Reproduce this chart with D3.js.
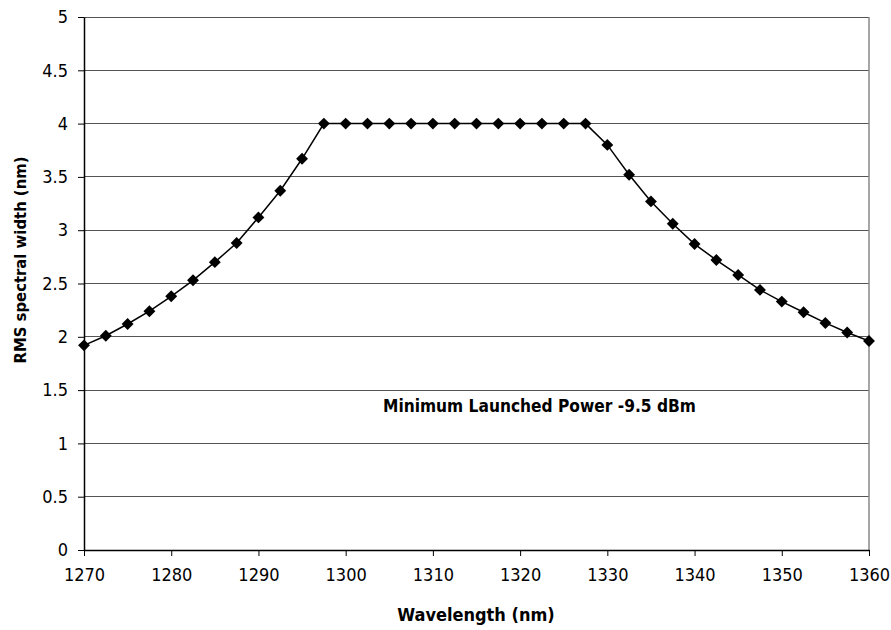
<!DOCTYPE html>
<html><head><meta charset="utf-8">
<script src="https://cdn.jsdelivr.net/npm/d3@7"></script>
<style>body{margin:0;background:#fff}</style>
</head><body>
<svg id="c" width="891" height="630"></svg>
<script>
const wavelengths = d3.range(37).map(i => 1270 + i * 2.5);
const rmsWidth = [1.92,2.01,2.12,2.24,2.38,2.53,2.70,2.88,3.12,3.37,3.67,
  4,4,4,4,4,4,4,4,4,4,4,4,4,
  3.80,3.52,3.27,3.06,2.87,2.72,2.58,2.44,2.33,2.23,2.13,2.04,1.96];
const xTicks = [1270,1280,1290,1300,1310,1320,1330,1340,1350,1360];
const yTicks = [0,0.5,1,1.5,2,2.5,3,3.5,4,4.5,5];
const xTitle = "Wavelength (nm)";
const yTitle = "RMS spectral width (nm)";
const note = "Minimum Launched Power -9.5 dBm";

const font = "'DejaVu Sans Condensed','Liberation Sans Narrow',sans-serif";
const m = {l:84, r:869, t:17, b:550};
const svg = d3.select("#c");
const x = d3.scaleLinear().domain([1270,1360]).range([m.l, m.r]);
const y = d3.scaleLinear().domain([0,5]).range([m.b, m.t]);

svg.append("g").selectAll("line").data(yTicks.filter(d=>d>0)).join("line")
  .attr("x1", m.l).attr("x2", m.r).attr("y1", d=>y(d)).attr("y2", d=>y(d))
  .attr("stroke", "#555").attr("stroke-width", 1).attr("shape-rendering","crispEdges");
svg.append("line").attr("x1", m.r).attr("x2", m.r).attr("y1", m.t).attr("y2", m.b)
  .attr("stroke","#888").attr("stroke-width",1.5);

const xa = svg.append("g").attr("transform", `translate(0,${m.b})`)
  .call(d3.axisBottom(x).tickValues(xTicks).tickSize(6).tickPadding(12).tickSizeOuter(0).tickFormat(d3.format("d")));
const ya = svg.append("g").attr("transform", `translate(${m.l},0)`)
  .call(d3.axisLeft(y).tickValues(yTicks).tickSize(6).tickPadding(10).tickSizeOuter(0).tickFormat(d=>String(d)));
[xa, ya].forEach(a => {
  a.selectAll("path.domain").attr("stroke","#000").attr("stroke-width",1.5);
  a.selectAll(".tick line").attr("stroke","#000").attr("stroke-width",1);
  a.selectAll("text").attr("font-family", font).attr("font-size", 18).attr("fill","#000");
});

const pts = wavelengths.map((w,i)=>[w, rmsWidth[i]]);
svg.append("path").datum(pts)
  .attr("d", d3.line().x(d=>x(d[0])).y(d=>y(d[1])))
  .attr("fill","none").attr("stroke","#000").attr("stroke-width",1.5);
svg.append("g").selectAll("path").data(pts).join("path")
  .attr("d", d3.symbol(d3.symbolDiamond2, 90))
  .attr("transform", d=>`translate(${x(d[0])},${y(d[1])})`)
  .attr("fill","#000");

svg.append("text").attr("x", 476).attr("y", 621).attr("text-anchor","middle")
  .attr("font-family", font).attr("font-weight","bold").attr("font-size",18).text(xTitle);
svg.append("text").attr("transform", `translate(26,260) rotate(-90)`).attr("text-anchor","middle")
  .attr("font-family", font).attr("font-weight","bold").attr("font-size",16.5).text(yTitle);
svg.append("text").attr("x", 383).attr("y", 412)
  .attr("font-family", font).attr("font-weight","bold").attr("font-size",17.2).text(note);
</script>
</body></html>
